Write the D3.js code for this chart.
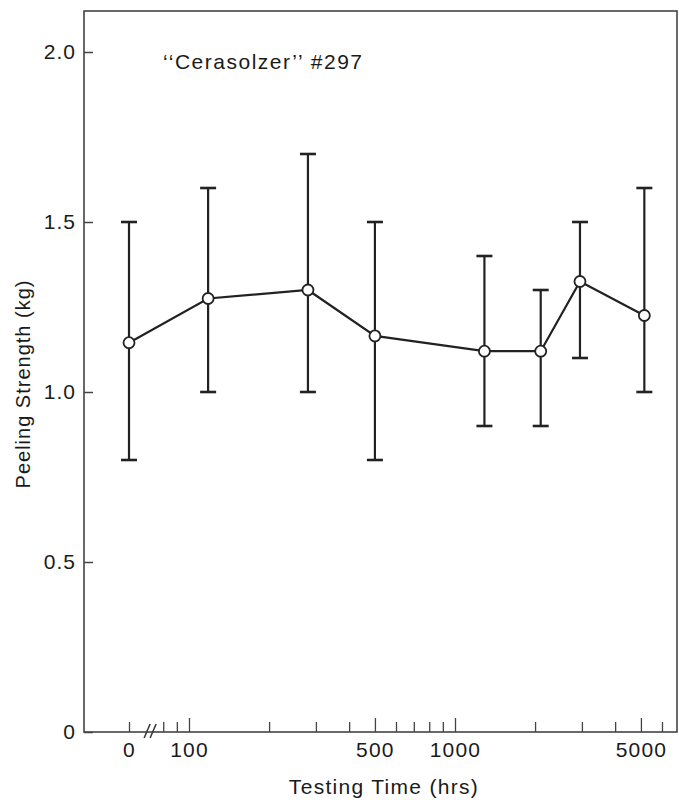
<!DOCTYPE html>
<html>
<head>
<meta charset="utf-8">
<script src="https://cdn.jsdelivr.net/npm/d3@7"></script>
<style>
  body { margin: 0; background: #fff; }
  text { font-family: "Liberation Sans", Arial, sans-serif; fill: #1a1a1a; }
</style>
</head>
<body>
<div id="chart"></div>
<script>
// ========== data ==========
var times = [0, 118, 280, 500, 1290, 2100, 2950, 5150];      // hrs
var means = [1.145, 1.275, 1.30, 1.165, 1.12, 1.12, 1.325, 1.225];
var upper = [1.5, 1.6, 1.7, 1.5, 1.4, 1.3, 1.5, 1.6];
var lower = [0.8, 1.0, 1.0, 0.8, 0.9, 0.9, 1.1, 1.0];

var yTicks = [0, 0.5, 1.0, 1.5, 2.0];
var majorX = [100, 500, 1000, 5000];
var minorX = [80, 90, 200, 300, 400, 600, 700, 800, 900, 2000, 3000, 4000, 6000];

var data = times.map(function(t, i) {
  return {t: t, m: means[i], hi: upper[i], lo: lower[i]};
});

// ========== chart setup ==========
var svgWidth = 679, svgHeight = 805;
var margin = {top: 11, right: 2, bottom: 73, left: 84};
var width = svgWidth - margin.left - margin.right;
var height = svgHeight - margin.top - margin.bottom;

var svg = d3.select("#chart").append("svg").attr("width", svgWidth).attr("height", svgHeight);
var g = svg.append("g").attr("transform", `translate(${margin.left}, ${margin.top})`);

// ========== scales ==========
var xLog = d3.scaleLog().domain([100, 1000]).range([105, 371]);
var zeroX = xLog(100) - 60;
var xZero = d3.scaleLinear().domain([0, 1]).range([zeroX, zeroX + 1]);
var xPos = function(t) { return t === 0 ? xZero(0) : xLog(t); };
var yScale = d3.scaleLinear().domain([0, 2]).range([height, 41]);

// ========== frame ==========
g.append("rect")
  .attr("width", width).attr("height", height)
  .attr("fill", "none").attr("stroke", "#444").attr("stroke-width", 1.6);

// ========== axes ==========
var fmtY = function(d) { return d === 0 ? "0" : d3.format(".1f")(d); };
var yAxis = g.append("g")
  .call(d3.axisLeft(yScale).tickValues(yTicks).tickSize(-9).tickPadding(8).tickFormat(fmtY));
yAxis.select(".domain").remove();
yAxis.selectAll("line").attr("stroke", "#444").attr("stroke-width", 1.5);
yAxis.selectAll("text").attr("font-size", 21).attr("fill", "#1a1a1a").attr("letter-spacing", 1)
  .attr("font-family", "Liberation Sans, Arial, sans-serif");

var minor = g.append("g").attr("transform", `translate(0, ${height})`)
  .call(d3.axisBottom(xLog).tickValues(minorX).tickSize(-10).tickFormat(""));
var major = g.append("g").attr("transform", `translate(0, ${height})`)
  .call(d3.axisBottom(xLog).tickValues(majorX).tickSize(-14).tickPadding(10).tickFormat(d3.format("d")));
var zero = g.append("g").attr("transform", `translate(0, ${height})`)
  .call(d3.axisBottom(xZero).tickValues([0]).tickSize(-10).tickPadding(10).tickFormat(d3.format("d")));

[minor, major, zero].forEach(function(ax) {
  ax.select(".domain").remove();
  ax.selectAll("line").attr("stroke", "#444").attr("stroke-width", 1.3);
  ax.selectAll("text").attr("font-size", 21).attr("fill", "#1a1a1a").attr("letter-spacing", 1.2)
    .attr("font-family", "Liberation Sans, Arial, sans-serif");
});

// axis break marks "//"
var bx = (zeroX + xLog(80)) / 2 + 4;
[-3, 3].forEach(function(o) {
  g.append("line")
    .attr("x1", bx + o - 3).attr("y1", height + 6)
    .attr("x2", bx + o + 3).attr("y2", height - 8)
    .attr("stroke", "#333").attr("stroke-width", 1.5);
});

// ========== error bars ==========
var bars = g.append("g").selectAll("g").data(data).enter().append("g");
bars.append("line")
  .attr("x1", d => xPos(d.t)).attr("x2", d => xPos(d.t))
  .attr("y1", d => yScale(d.hi)).attr("y2", d => yScale(d.lo))
  .attr("stroke", "#222").attr("stroke-width", 2.2);
bars.selectAll(".cap").data(d => [{t: d.t, v: d.hi}, {t: d.t, v: d.lo}]).enter().append("line")
  .attr("x1", d => xPos(d.t) - 8).attr("x2", d => xPos(d.t) + 8)
  .attr("y1", d => yScale(d.v)).attr("y2", d => yScale(d.v))
  .attr("stroke", "#222").attr("stroke-width", 2.6);

// ========== line + markers ==========
var line = d3.line().x(d => xPos(d.t)).y(d => yScale(d.m));
g.append("path").datum(data)
  .attr("d", line).attr("fill", "none").attr("stroke", "#222").attr("stroke-width", 2.2);

g.selectAll("circle").data(data).enter().append("circle")
  .attr("cx", d => xPos(d.t)).attr("cy", d => yScale(d.m))
  .attr("r", 5.5).attr("fill", "#fff").attr("stroke", "#222").attr("stroke-width", 1.8);

// ========== labels ==========
g.append("text")
  .attr("x", 163 - margin.left).attr("y", 69 - margin.top)
  .attr("font-size", 21).attr("letter-spacing", 1.5)
  .text("\u2018\u2018Cerasolzer\u2019\u2019 #297");

g.append("text")
  .attr("x", 384 - margin.left).attr("y", height + 62)
  .attr("text-anchor", "middle").attr("font-size", 21).attr("letter-spacing", 1.3)
  .text("Testing Time (hrs)");

g.append("text")
  .attr("transform", `translate(${30 - margin.left}, ${384 - margin.top}) rotate(-90)`)
  .attr("text-anchor", "middle").attr("font-size", 20).attr("letter-spacing", 1)
  .text("Peeling Strength (kg)");
</script>
</body>
</html>
